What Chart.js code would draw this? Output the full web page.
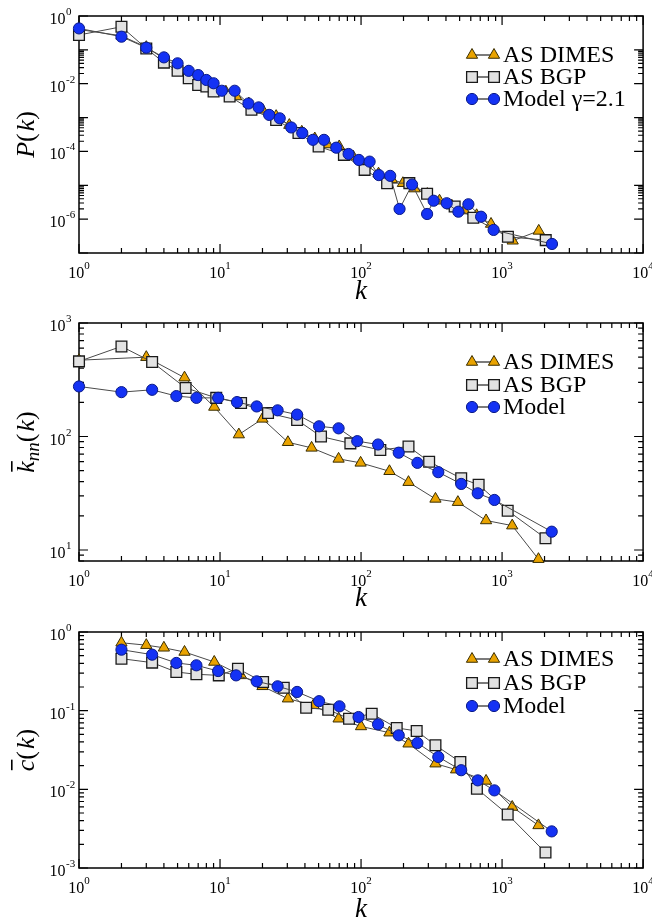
<!DOCTYPE html>
<html>
<head>
<meta charset="utf-8">
<script src="https://cdn.jsdelivr.net/npm/chart.js@4.4.1/dist/chart.umd.min.js"></script>
<style>
  html, body { margin: 0; padding: 0; background: #fff; }
  #wrap { position: relative; width: 652px; height: 918px; overflow: hidden; }
  canvas { position: absolute; left: 0; }
</style>
</head>
<body>
<div id="wrap">
  <canvas id="pk" width="652" height="300" style="top:0px"></canvas>
  <canvas id="knn" width="652" height="310" style="top:300px"></canvas>
  <canvas id="ck" width="652" height="308" style="top:610px"></canvas>
</div>
<script>
// ---- P(k) panel ----
const pkDimesK = [1, 2, 3, 4, 5, 6, 7, 8, 9, 11, 13, 16, 20, 25, 31, 38, 47, 58, 70, 88, 108, 133, 165, 198, 240, 295, 360, 440, 540, 660, 835, 1189, 1820];
const pkDimes = [0.40, 0.26, 0.12, 0.055, 0.033, 0.022, 0.015, 0.011, 0.0085, 0.0058, 0.0042, 0.0026, 0.0017, 0.0011, 0.0006, 0.00038, 0.00024, 0.00016, 0.00014, 7e-5, 4e-5, 2.2e-5, 1.5e-5, 1.15e-5, 8e-6, 5.5e-6, 3.5e-6, 2.5e-6, 1.8e-6, 1.3e-6, 7.2e-7, 2.3e-7, 4.5e-7];
const pkBgpK = [1, 2, 3, 4, 5, 6, 7, 8, 9, 11.7, 16.7, 25, 36, 50, 75.6, 106, 153, 220, 294, 461, 625, 1100, 2040];
const pkBgp = [0.275, 0.48, 0.11, 0.042, 0.024, 0.0145, 0.0092, 0.0083, 0.0059, 0.0042, 0.0017, 0.00085, 0.00035, 0.00014, 7.9e-5, 2.85e-5, 1.15e-5, 1.16e-5, 5.6e-6, 2.35e-6, 1.1e-6, 3.0e-7, 2.4e-7];
const pkModelK = [1, 2, 3, 4, 5, 6, 7, 8, 9, 10.3, 12.7, 15.9, 18.8, 22.3, 26.5, 32, 38.3, 45.6, 54.6, 66.7, 81.6, 96.5, 115, 133.7, 161, 187.5, 230, 294, 327, 405, 490, 577, 710, 871, 2259];
const pkModel = [0.43, 0.245, 0.116, 0.060, 0.040, 0.024, 0.018, 0.0129, 0.0103, 0.0062, 0.0062, 0.0026, 0.0020, 0.0012, 0.00095, 0.00051, 0.00035, 0.00022, 0.00022, 0.000129, 8.4e-5, 5.6e-5, 5.0e-5, 2.0e-5, 1.9e-5, 2.0e-6, 1.05e-5, 1.42e-6, 3.5e-6, 2.95e-6, 1.66e-6, 2.75e-6, 1.18e-6, 4.8e-7, 1.85e-7];

// ---- knn(k) panel ----
const knnDimesK = [1, 3, 5.6, 9.1, 13.6, 20, 30.3, 44.6, 69.3, 99.3, 159, 217, 337, 486, 770, 1180, 1811];
const knnDimes = [470, 500, 330, 182, 104, 143, 89, 79.4, 63.5, 58.6, 49.4, 39.6, 28.2, 26.4, 18.2, 16.4, 8.3];
const knnBgpK = [1, 2, 3.3, 5.7, 9.4, 14.1, 21.9, 35.2, 52, 84, 137, 217, 304, 513, 682, 1096, 2032];
const knnBgp = [459, 622, 453, 268, 219, 197, 161, 140, 100, 87, 76, 81.6, 60, 42.8, 37.5, 22.2, 12.7];
const knnModelK = [1, 2, 3.3, 4.9, 6.8, 9.7, 13.2, 18.2, 25.6, 35.2, 50.4, 69.3, 94, 132, 185, 251, 353, 513, 672, 882, 2249];
const knnModel = [276, 246, 258, 227, 219, 219, 201, 184, 170, 156, 123, 118, 91, 85, 72, 58.6, 48.5, 38.2, 31.6, 27.6, 14.5];

// ---- c(k) panel ----
const ckDimesK = [2, 3, 4, 5.6, 9.1, 14.1, 20, 30.3, 46, 69.3, 100, 159, 217, 337, 472, 770, 1180, 1811];
const ckDimes = [0.73, 0.68, 0.63, 0.557, 0.416, 0.281, 0.204, 0.142, 0.117, 0.079, 0.063, 0.0525, 0.038, 0.0212, 0.0178, 0.0128, 0.00596, 0.00348];
const ckBgpK = [2, 3.3, 4.9, 6.8, 9.8, 13.4, 20.2, 28.3, 40.8, 58.5, 82.2, 119, 179, 248, 337, 506, 663, 1096, 2032];
const ckBgp = [0.458, 0.408, 0.31, 0.29, 0.281, 0.342, 0.231, 0.196, 0.109, 0.103, 0.079, 0.0916, 0.0603, 0.0552, 0.0363, 0.0222, 0.0102, 0.0048, 0.00157];
const ckModelK = [2, 3.3, 4.9, 6.8, 9.7, 13, 18.2, 25.6, 35.2, 50.4, 70.3, 96, 132, 185, 251, 353, 513, 672, 882, 2249];
const ckModel = [0.596, 0.515, 0.404, 0.377, 0.319, 0.281, 0.236, 0.204, 0.173, 0.132, 0.1135, 0.083, 0.067, 0.0486, 0.0388, 0.0258, 0.0175, 0.013, 0.0097, 0.00292];

const xExps = [0, 1, 2, 3, 4];
const SERIF = '"Liberation Serif", "Times New Roman", serif';

function pts(ks, vs) {
    return ks.map((k, i) => ({ x: k, y: vs[i] }));
}

function dimesSet(label, data) {
    return {
        label, data, order: 2, clip: false,
        borderColor: '#4a4a4a', borderWidth: 1,
        pointStyle: 'triangle', pointRadius: 6.5,
        pointBackgroundColor: '#e9a300', pointBorderColor: '#3a2e00', pointBorderWidth: 1
    };
}
function bgpSet(label, data) {
    return {
        label, data, order: 1, clip: false,
        borderColor: '#4a4a4a', borderWidth: 1,
        pointStyle: 'rect', pointRadius: 7.6,
        pointBackgroundColor: '#e2e2e2', pointBorderColor: '#1a1a1a', pointBorderWidth: 1.3
    };
}
function modelSet(label, data) {
    return {
        label, data, order: 0, clip: false,
        borderColor: '#4a4a4a', borderWidth: 1,
        pointStyle: 'circle', pointRadius: 5.6,
        pointBackgroundColor: '#1432f4', pointBorderColor: '#0a1a88', pointBorderWidth: 1
    };
}

function marker(ctx, ds, x, y) {
    const r = ds.pointRadius;
    ctx.beginPath();
    if (ds.pointStyle === 'circle') {
        ctx.arc(x, y, r, 0, Math.PI * 2);
    } else if (ds.pointStyle === 'rect') {
        const s = r * Math.SQRT1_2;
        ctx.rect(x - s, y - s, 2 * s, 2 * s);
    } else {
        ctx.moveTo(x, y - r);
        ctx.lineTo(x + 0.866 * r, y + 0.5 * r);
        ctx.lineTo(x - 0.866 * r, y + 0.5 * r);
        ctx.closePath();
    }
    ctx.fillStyle = ds.pointBackgroundColor;
    ctx.fill();
    ctx.strokeStyle = ds.pointBorderColor;
    ctx.lineWidth = ds.pointBorderWidth;
    ctx.stroke();
}

// tick positions: majors every `step` decades, minors 2..9 x major
function eachTick(scale, step, cb) {
    const lo = Math.floor(Math.log10(scale.min) + 1e-9) - 1;
    const hi = Math.ceil(Math.log10(scale.max) - 1e-9);
    for (let e = lo; e <= hi; e++) {
        const isMajor = ((e % step) + step) % step === 0;
        for (let m = 1; m <= 9; m++) {
            if (!isMajor && m > 1) continue;
            const v = m * Math.pow(10, e);
            if (v < scale.min * 0.999 || v > scale.max * 1.001) continue;
            cb(scale.getPixelForValue(v), m === 1);
        }
    }
}

const decor = {
    id: 'decor',
    beforeDatasetsDraw(chart, args, opts) {
        const { ctx, chartArea: a, scales } = chart;
        ctx.save();
        ctx.strokeStyle = '#000';
        ctx.lineWidth = 1.5;
        ctx.strokeRect(a.left, a.top, a.right - a.left, a.bottom - a.top);
        ctx.lineWidth = 1.2;
        ctx.beginPath();
        eachTick(scales.x, 1, (p, major) => {
            const L = major ? 9 : 5;
            ctx.moveTo(p, a.bottom); ctx.lineTo(p, a.bottom - L);
            ctx.moveTo(p, a.top); ctx.lineTo(p, a.top + L);
        });
        eachTick(scales.y, opts.yStep, (p, major) => {
            const L = major ? 9 : 5;
            ctx.moveTo(a.left, p); ctx.lineTo(a.left + L, p);
            ctx.moveTo(a.right, p); ctx.lineTo(a.right - L, p);
        });
        ctx.stroke();
        ctx.restore();
    },
    afterDraw(chart, args, opts) {
        const { ctx, chartArea: a, scales } = chart;
        ctx.save();
        ctx.fillStyle = '#000';
        ctx.textBaseline = 'alphabetic';
        const big = '16px ' + SERIF, sup = '11px ' + SERIF;

        // x tick labels
        xExps.forEach(e => {
            const p = scales.x.getPixelForValue(Math.pow(10, e));
            ctx.font = big; const w1 = ctx.measureText('10').width;
            ctx.font = sup; const w2 = ctx.measureText(String(e)).width;
            const x0 = p - (w1 + w2) / 2;
            ctx.textAlign = 'left';
            ctx.font = big; ctx.fillText('10', x0, a.bottom + 25);
            ctx.font = sup; ctx.fillText(String(e), x0 + w1, a.bottom + 16);
        });
        // y tick labels
        opts.yExps.forEach(e => {
            const p = scales.y.getPixelForValue(Math.pow(10, e));
            ctx.font = big; ctx.textAlign = 'right';
            ctx.fillText('10', 65.5, p + 8);
            ctx.font = sup; ctx.textAlign = 'left';
            ctx.fillText(String(e), 66, p - 1);
        });

        // x title
        ctx.font = 'italic 27px ' + SERIF;
        ctx.textAlign = 'center';
        ctx.fillText('k', (a.left + a.right) / 2, opts.xTitleY);

        // y title (rotated, built from pieces)
        ctx.save();
        ctx.translate(34, (a.top + a.bottom) / 2);
        ctx.rotate(-Math.PI / 2);
        ctx.textAlign = 'left';
        let total = 0;
        opts.yTitle.forEach(part => {
            ctx.font = part.font;
            part.w = ctx.measureText(part.t).width + (part.gap || 0);
            total += part.w;
        });
        let x = -total / 2;
        opts.yTitle.forEach(part => {
            ctx.font = part.font;
            ctx.fillText(part.t, x, part.dy || 0);
            if (part.bar) {
                ctx.fillRect(x + 1, -23, part.w - 1, 1.6);
            }
            x += part.w;
        });
        ctx.restore();

        // legend: marker - line - marker, then label
        chart.data.datasets.forEach((ds, i) => {
            const y = opts.legendY[i];
            ctx.strokeStyle = '#222';
            ctx.lineWidth = 1.2;
            ctx.beginPath(); ctx.moveTo(472, y); ctx.lineTo(494, y); ctx.stroke();
            marker(ctx, ds, 472, y);
            marker(ctx, ds, 494, y);
            ctx.fillStyle = '#000';
            ctx.font = '24px ' + SERIF;
            ctx.textAlign = 'left';
            ctx.textBaseline = 'middle';
            ctx.fillText(ds.label, 503, y + 1);
            ctx.textBaseline = 'alphabetic';
        });
        ctx.restore();
    }
};

function makePanel(id, datasets, yMin, yMax, top, xAxisH, decorOpts) {
    return new Chart(document.getElementById(id), {
        type: 'line',
        data: { datasets },
        options: {
            responsive: false,
            animation: false,
            events: [],
            layout: { padding: { top: top, right: 8, left: 0, bottom: 0 } },
            plugins: { legend: { display: false }, tooltip: { enabled: false }, decor: decorOpts },
            scales: {
                x: {
                    type: 'logarithmic', min: 1, max: 10000,
                    grid: { display: false }, border: { display: false }, ticks: { display: false },
                    afterFit: s => { s.height = xAxisH; }
                },
                y: {
                    type: 'logarithmic', min: yMin, max: yMax,
                    grid: { display: false }, border: { display: false }, ticks: { display: false },
                    afterFit: s => { s.width = 79; }
                }
            }
        },
        plugins: [decor]
    });
}

const italic = '26px ' + SERIF;
makePanel('pk', [
    dimesSet('AS DIMES', pts(pkDimesK, pkDimes)),
    bgpSet('AS BGP', pts(pkBgpK, pkBgp)),
    modelSet('Model \u03b3=2.1', pts(pkModelK, pkModel))
], 1e-7, 1, 16, 47, {
    yStep: 2, yExps: [0, -2, -4, -6], xTitleY: 299,
    legendY: [55, 77, 99],
    yTitle: [
        { t: 'P', font: 'italic ' + italic },
        { t: '(', font: italic, gap: 2 },
        { t: 'k', font: 'italic ' + italic },
        { t: ')', font: italic }
    ]
});

makePanel('knn', [
    dimesSet('AS DIMES', pts(knnDimesK, knnDimes)),
    bgpSet('AS BGP', pts(knnBgpK, knnBgp)),
    modelSet('Model', pts(knnModelK, knnModel))
], 8, 1000, 23, 49, {
    yStep: 1, yExps: [1, 2, 3], xTitleY: 306,
    legendY: [62, 85, 107],
    yTitle: [
        { t: 'k', font: 'italic ' + italic, bar: true },
        { t: 'nn', font: 'italic 19px ' + SERIF, dy: 5 },
        { t: '(', font: italic, gap: 2 },
        { t: 'k', font: 'italic ' + italic },
        { t: ')', font: italic }
    ]
});

makePanel('ck', [
    dimesSet('AS DIMES', pts(ckDimesK, ckDimes)),
    bgpSet('AS BGP', pts(ckBgpK, ckBgp)),
    modelSet('Model', pts(ckModelK, ckModel))
], 0.001, 1, 22, 50, {
    yStep: 1, yExps: [0, -1, -2, -3], xTitleY: 307,
    legendY: [49, 73, 96],
    yTitle: [
        { t: 'c', font: 'italic ' + italic, bar: true },
        { t: '(', font: italic, gap: 2 },
        { t: 'k', font: 'italic ' + italic },
        { t: ')', font: italic }
    ]
});
</script>
</body>
</html>
